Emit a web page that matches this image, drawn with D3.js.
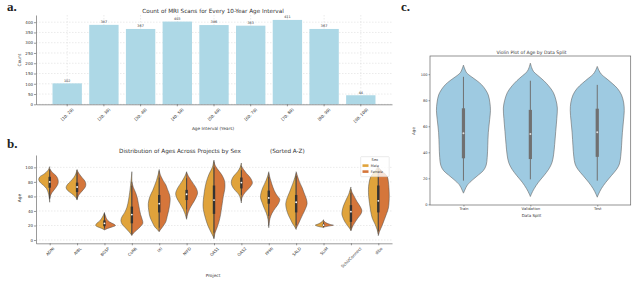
<!DOCTYPE html>
<html>
<head>
<meta charset="utf-8">
<script src="https://cdn.jsdelivr.net/npm/d3@7"></script>
<style>
body { margin: 0; background: #fff; }
svg text { font-family: "DejaVu Sans", sans-serif; fill: #333; }
.axis path, .axis line { stroke: #555; stroke-width: 0.6; }
.axis text { font-size: 4px; fill: #333; }
.grid line { stroke: #d6d6d6; stroke-width: 0.5; stroke-dasharray: 1.5, 1.5; }
svg text.panel { font-family: "Liberation Serif", "DejaVu Serif", serif; font-weight: bold; font-size: 13px; fill: #222; }
.lab { font-size: 4.3px; }
</style>
</head>
<body>
<div id="chart"></div>
<script>
// panel a: scans per age bin
var ageBins = ["[10, 20)", "[20, 30)", "[30, 40)", "[40, 50)", "[50, 60)", "[60, 70)", "[70, 80)", "[80, 90)", "[90, 100)"];
var scanCounts = [102, 387, 367, 403, 386, 383, 411, 367, 44];
var countTicks = [0, 50, 100, 150, 200, 250, 300, 350, 400];

// panel b: split violins per project, shapes are [age, relative half width]
var projects = ["ADNI", "AIBL", "BGSP", "CoRR", "IXI", "NIFD", "OAS1", "OAS2", "PPMI", "SALD", "SLIM", "SchizConnect", "dlbs"];
var maleShape = [
    [[101,0],[96,0.15],[91,0.5],[87,0.9],[83,1],[79,0.85],[75,0.55],[71,0.3],[66,0.15],[60,0.06],[55,0.02],[52,0]],
    [[97,0],[91,0.12],[86,0.3],[81,0.58],[76,0.9],[72,1],[68,0.85],[64,0.5],[60,0.2],[57,0.05],[55,0]],
    [[38,0],[34,0.1],[30,0.25],[26,0.45],[23,0.7],[20,0.8],[18,0.6],[16,0.25],[14,0]],
    [[94,0],[85,0.05],[75,0.12],[65,0.2],[55,0.3],[45,0.45],[38,0.65],[32,0.9],[27,1],[22,0.9],[17,0.6],[12,0.3],[8,0.08],[6,0]],
    [[97,0],[90,0.1],[82,0.25],[75,0.42],[68,0.6],[60,0.85],[50,1],[40,0.95],[32,0.85],[25,0.65],[18,0.4],[14,0.15],[11.5,0]],
    [[94,0],[88,0.15],[80,0.45],[72,0.8],[64,1],[58,0.9],[50,0.6],[42,0.3],[35,0.12],[28.5,0]],
    [[110,0],[104,0.08],[100,0.15],[90,0.47],[80,0.7],[72,0.82],[62,0.92],[50,1],[42,0.97],[30,0.78],[20,0.56],[10,0.25],[5,0.08],[1.5,0]],
    [[106,0],[100,0.12],[94,0.35],[88,0.7],[83,0.88],[78,0.92],[73,0.8],[68,0.55],[63,0.25],[57,0.08],[51,0]],
    [[94,0],[88,0.1],[80,0.3],[72,0.55],[64,0.72],[58,0.75],[52,0.62],[45,0.45],[37,0.22],[28,0.06],[17,0]],
    [[92,0],[86,0.12],[80,0.25],[74,0.4],[66,0.6],[58,0.82],[50,0.95],[42,0.88],[34,0.7],[28,0.5],[22,0.3],[18,0.12],[14.5,0]],
    [[28,0],[25,0.15],[22,0.5],[20.5,0.75],[19,0.55],[17.5,0.1],[17,0]],
    [[73,0],[68,0.1],[63,0.2],[55,0.45],[47,0.68],[40,0.8],[35,0.82],[29,0.68],[25,0.55],[20,0.32],[16,0.12],[13,0]],
    [[102,0],[97,0.2],[92,0.45],[87,0.7],[78,0.85],[70,0.9],[60,0.88],[50,0.8],[40,0.7],[30,0.55],[22,0.3],[15,0.12],[8,0]]
];
var femaleShape = [
    [[98,0],[93,0.25],[89,0.55],[85,0.72],[81,0.78],[77,0.75],[73,0.6],[69,0.4],[65,0.2],[61,0.07],[57,0]],
    [[96,0],[91,0.2],[86,0.45],[81,0.72],[77,0.8],[73,0.75],[69,0.55],[65,0.32],[61,0.12],[57,0.02],[56,0]],
    [[37,0],[33,0.1],[29,0.2],[25,0.45],[22,0.85],[20,1],[18,0.7],[16,0.3],[14,0]],
    [[80,0],[72,0.15],[65,0.35],[58,0.5],[50,0.6],[42,0.7],[35,0.8],[28,0.95],[23,1],[18,0.75],[13,0.4],[9,0.12],[7,0]],
    [[95,0],[88,0.15],[82,0.35],[76,0.6],[70,0.75],[62,0.95],[56,1],[48,0.95],[40,0.85],[32,0.72],[25,0.6],[19,0.35],[15,0.15],[12,0]],
    [[93,0],[87,0.2],[80,0.5],[72,0.85],[65,1],[58,0.85],[50,0.55],[43,0.28],[36,0.1],[30,0]],
    [[108,0],[103,0.1],[98,0.3],[90,0.7],[82,0.95],[76,1],[70,0.98],[60,0.85],[50,0.75],[45,0.7],[35,0.6],[25,0.45],[18,0.3],[10,0.1],[3,0]],
    [[102,0],[97,0.2],[92,0.45],[87,0.75],[82,0.95],[78,1],[73,0.8],[68,0.5],[63,0.22],[58,0.05],[54,0]],
    [[92,0],[85,0.12],[77,0.28],[68,0.5],[62,0.72],[56,1],[50,0.88],[44,0.6],[37,0.3],[30,0.12],[20,0]],
    [[94,0],[88,0.12],[80,0.3],[72,0.55],[65,0.72],[57,0.92],[50,1],[43,0.85],[35,0.6],[28,0.38],[22,0.2],[16,0]],
    [[27,0],[24,0.2],[21.5,0.6],[20.5,0.9],[19.5,0.6],[18,0.1],[17.5,0]],
    [[70,0],[65,0.12],[60,0.3],[53,0.55],[46,0.85],[40,1],[35,0.88],[30,0.62],[25,0.4],[20,0.2],[15,0.05],[13,0]],
    [[100,0],[94,0.4],[88,0.8],[80,0.92],[72,0.97],[62,1],[52,0.98],[44,0.92],[36,0.75],[28,0.55],[20,0.35],[12,0.12],[6,0]]
];
// [lower whisker, q1, median, q3, upper whisker]
var projectBox = [
    [57,72,80,87,97], [57,66,73,79,93], [16,19,23,27,36], [8,23,35,46,75], [17,38,50,62,86],
    [42,55,63,69,85], [10,36,55,75,100], [62,71,79,86,96], [33,50,58,68,87], [20,38,52,62,88],
    [18,19.5,20.5,21.5,24], [16,25,39,48,65], [12,38,54,75,98]
];
var sexes = ["Male", "Female"];
var sexColors = ["#e0a33b", "#d5763b"];
var ageTicks = [0, 20, 40, 60, 80, 100];

// panel c: violins by data split
var splits = ["Train", "Validation", "Test"];
var splitShape = [
    [[107,0],[104,0.05],[101,0.12],[98,0.3],[95,0.5],[92,0.67],[88,0.82],[84,0.92],[78,0.98],[72,1],[65,0.97],[55,0.92],[45,0.9],[36,0.88],[30,0.84],[26,0.74],[22.5,0.55],[19,0.35],[15,0.15],[11,0.05],[8.6,0]],
    [[108.5,0],[105,0.05],[102,0.12],[99,0.28],[95,0.5],[91,0.68],[86,0.85],[80,0.95],[74,1],[66,0.98],[56,0.94],[46,0.9],[38,0.86],[32,0.8],[27,0.68],[22,0.5],[17,0.3],[12,0.14],[8,0.04],[6,0]],
    [[106,0],[103,0.06],[100,0.15],[97,0.32],[93,0.55],[89,0.75],[84,0.9],[78,0.98],[72,1],[64,0.97],[55,0.93],[45,0.9],[37,0.87],[31,0.82],[27,0.72],[22,0.52],[17,0.32],[12,0.15],[8,0.05],[5.5,0]]
];
var splitBox = [[18.2,35.4,54.6,73.8,98], [19.2,34.8,54,72.6,95], [18.2,36.5,55.5,73.5,91.8]];

var width = 640, height = 296;

var svg = d3.select("#chart")
    .append("svg")
    .attr("width", width)
    .attr("height", height);

// rotate tick labels 45 degrees, centred under the tick like matplotlib
function rotateLabels(g, tickLen) {
    g.selectAll(".tick text").each(function() {
        var L = this.getComputedTextLength();
        var off = tickLen + 1.2 + (L + 4) / (2 * Math.SQRT2);
        d3.select(this)
            .attr("y", 0)
            .attr("dy", "0.35em")
            .attr("text-anchor", "middle")
            .attr("transform", "translate(0," + off + ") rotate(-45)");
    });
}

/*
PANEL A
*/
var a = { left: 36, right: 392, top: 15, bottom: 104.3 };

a.x = d3.scaleBand()
    .domain(ageBins)
    .range([a.left, a.right])
    .paddingInner(0.2)
    .paddingOuter(0.45);

a.y = d3.scaleLinear()
    .domain([0, 435])
    .range([a.bottom, a.top]);

a.grid = svg.append("g").attr("class", "grid");
a.grid.selectAll(".h").data(countTicks).enter().append("line")
    .attr("x1", a.left).attr("x2", a.right)
    .attr("y1", function(d) { return a.y(d); })
    .attr("y2", function(d) { return a.y(d); });
a.grid.selectAll(".v").data(ageBins).enter().append("line")
    .attr("x1", function(d) { return a.x(d) + a.x.bandwidth() / 2; })
    .attr("x2", function(d) { return a.x(d) + a.x.bandwidth() / 2; })
    .attr("y1", a.top).attr("y2", a.bottom);

svg.selectAll(".bar")
    .data(scanCounts)
    .enter()
    .append("rect")
    .attr("x", function(d, i) { return a.x(ageBins[i]); })
    .attr("y", function(d) { return a.y(d); })
    .attr("width", a.x.bandwidth())
    .attr("height", function(d) { return a.bottom - a.y(d); })
    .attr("fill", "#add8e6");

svg.selectAll(".barlab")
    .data(scanCounts)
    .enter()
    .append("text")
    .attr("x", function(d, i) { return a.x(ageBins[i]) + a.x.bandwidth() / 2; })
    .attr("y", function(d) { return a.y(d) - 1.6; })
    .attr("text-anchor", "middle")
    .style("font-size", "3.4px")
    .text(function(d) { return d; });

a.xAxis = svg.append("g")
    .attr("class", "axis")
    .attr("transform", "translate(0," + a.bottom + ")")
    .call(d3.axisBottom(a.x).tickSize(2).tickPadding(1).tickSizeOuter(0));
rotateLabels(a.xAxis, 2);

a.yAxis = svg.append("g")
    .attr("class", "axis")
    .attr("transform", "translate(" + a.left + ",0)")
    .call(d3.axisLeft(a.y).tickValues(countTicks).tickSize(2).tickPadding(1).tickSizeOuter(0));

svg.append("text").attr("x", 213).attr("y", 13).attr("text-anchor", "middle")
    .style("font-size", "5.7px")
    .text("Count of MRI Scans for Every 10-Year Age Interval");
svg.append("text").attr("class", "lab").attr("x", 213).attr("y", 130).attr("text-anchor", "middle")
    .text("Age Interval (Years)");
svg.append("text").attr("class", "lab").attr("transform", "translate(21,60) rotate(-90)")
    .attr("text-anchor", "middle").text("Count");
svg.append("text").attr("class", "panel").attr("x", 7).attr("y", 11).text("a.");

/*
PANEL B
*/
var b = { left: 36, right: 392, top: 155, bottom: 243.3 };

b.x = d3.scalePoint()
    .domain(projects)
    .range([b.left, b.right])
    .padding(0.5);

b.y = d3.scaleLinear()
    .domain([-4.5, 117])
    .range([b.bottom, b.top]);

b.hw = 0.4 * b.x.step();

svg.append("g").attr("class", "grid")
    .selectAll("line").data(ageTicks).enter().append("line")
    .attr("x1", b.left).attr("x2", b.right)
    .attr("y1", function(d) { return b.y(d); })
    .attr("y2", function(d) { return b.y(d); });

b.violins = svg.append("g");
projects.forEach(function(p, i) {
    var cx = b.x(p);
    [maleShape[i], femaleShape[i]].forEach(function(shape, s) {
        var dir = s === 0 ? -1 : 1;
        var area = d3.area()
            .curve(d3.curveCatmullRom)
            .y(function(d) { return b.y(d[0]); })
            .x0(cx)
            .x1(function(d) { return cx + dir * d[1] * b.hw; });
        b.violins.append("path")
            .attr("d", area(shape))
            .attr("fill", sexColors[s])
            .attr("stroke", "#4a4a4a")
            .attr("stroke-width", 0.5);
    });
    var st = projectBox[i];
    b.violins.append("line")
        .attr("x1", cx).attr("x2", cx)
        .attr("y1", b.y(st[0])).attr("y2", b.y(st[4]))
        .attr("stroke", "#333").attr("stroke-width", 0.7);
    b.violins.append("rect")
        .attr("x", cx - 1.2).attr("width", 2.4)
        .attr("y", b.y(st[3])).attr("height", b.y(st[1]) - b.y(st[3]))
        .attr("fill", "#333");
    b.violins.append("circle")
        .attr("cx", cx).attr("cy", b.y(st[2])).attr("r", 0.9)
        .attr("fill", "#fff");
});

b.xAxis = svg.append("g")
    .attr("class", "axis")
    .attr("transform", "translate(0," + b.bottom + ")")
    .call(d3.axisBottom(b.x).tickSize(2).tickPadding(1).tickSizeOuter(0));
rotateLabels(b.xAxis, 2);

b.yAxis = svg.append("g")
    .attr("class", "axis")
    .attr("transform", "translate(" + b.left + ",0)")
    .call(d3.axisLeft(b.y).tickValues(ageTicks).tickSize(2).tickPadding(1).tickSizeOuter(0));

// legend
b.legend = svg.append("g").attr("transform", "translate(360.7,156.7)");
b.legend.append("rect").attr("width", 28.5).attr("height", 20)
    .attr("fill", "#fff").attr("fill-opacity", 0.8)
    .attr("stroke", "#ccc").attr("stroke-width", 0.4).attr("rx", 0.8);
b.legend.append("text").attr("x", 14.2).attr("y", 4.6).attr("text-anchor", "middle")
    .style("font-size", "3.6px").text("Sex");
sexes.forEach(function(s, i) {
    b.legend.append("rect").attr("x", 1.8).attr("y", 7.6 + i * 6).attr("width", 6).attr("height", 2.6)
        .attr("fill", sexColors[i]);
    b.legend.append("text").attr("x", 10).attr("y", 9.9 + i * 6)
        .style("font-size", "3.4px").text(s);
});

svg.append("text").attr("x", 119).attr("y", 153).style("font-size", "5.7px")
    .text("Distribution of Ages Across Projects by Sex");
svg.append("text").attr("x", 270).attr("y", 153).style("font-size", "5.7px")
    .text("(Sorted A-Z)");
svg.append("text").attr("class", "lab").attr("x", 213).attr("y", 277).attr("text-anchor", "middle")
    .text("Project");
svg.append("text").attr("class", "lab").attr("transform", "translate(21,198) rotate(-90)")
    .attr("text-anchor", "middle").text("Age");
svg.append("text").attr("class", "panel").attr("x", 7).attr("y", 148).text("b.");

/*
PANEL C
*/
var c = { left: 430, right: 630.7, top: 56, bottom: 205 };

c.x = d3.scalePoint()
    .domain(splits)
    .range([c.left, c.right])
    .padding(0.5);

c.y = d3.scaleLinear()
    .domain([-0.5, 114])
    .range([c.bottom, c.top]);

c.hw = 27;

splits.forEach(function(s, i) {
    var cx = c.x(s);
    var area = d3.area()
        .curve(d3.curveCatmullRom)
        .y(function(d) { return c.y(d[0]); })
        .x0(function(d) { return cx - d[1] * c.hw; })
        .x1(function(d) { return cx + d[1] * c.hw; });
    svg.append("path")
        .attr("d", area(splitShape[i]))
        .attr("fill", "#9ecae1")
        .attr("stroke", "#666")
        .attr("stroke-width", 0.6);
    var st = splitBox[i];
    svg.append("line")
        .attr("x1", cx).attr("x2", cx)
        .attr("y1", c.y(st[0])).attr("y2", c.y(st[4]))
        .attr("stroke", "#707070").attr("stroke-width", 1);
    svg.append("rect")
        .attr("x", cx - 1.6).attr("width", 3.2)
        .attr("y", c.y(st[3])).attr("height", c.y(st[1]) - c.y(st[3]))
        .attr("fill", "#707070");
    svg.append("circle")
        .attr("cx", cx).attr("cy", c.y(st[2])).attr("r", 1)
        .attr("fill", "#ddd");
});

svg.append("rect")
    .attr("x", c.left).attr("y", c.top)
    .attr("width", c.right - c.left).attr("height", c.bottom - c.top)
    .attr("fill", "none").attr("stroke", "#666").attr("stroke-width", 0.7);

c.xAxis = svg.append("g")
    .attr("class", "axis")
    .attr("transform", "translate(0," + c.bottom + ")")
    .call(d3.axisBottom(c.x).tickSize(1.5).tickPadding(1).tickSizeOuter(0));
c.xAxis.select(".domain").remove();
c.xAxis.selectAll("text").style("font-size", "3.8px");

c.yAxis = svg.append("g")
    .attr("class", "axis")
    .attr("transform", "translate(" + c.left + ",0)")
    .call(d3.axisLeft(c.y).tickValues(ageTicks).tickSize(1.5).tickPadding(1).tickSizeOuter(0));
c.yAxis.select(".domain").remove();
c.yAxis.selectAll("text").style("font-size", "3.6px");

svg.append("text").attr("x", 531.5).attr("y", 54).attr("text-anchor", "middle")
    .style("font-size", "4.6px").text("Violin Plot of Age by Data Split");
svg.append("text").attr("x", 531.5).attr("y", 217).attr("text-anchor", "middle")
    .style("font-size", "4px").text("Data Split");
svg.append("text").attr("transform", "translate(415,131) rotate(-90)")
    .attr("text-anchor", "middle").style("font-size", "4px").text("Age");
svg.append("text").attr("class", "panel").attr("x", 401).attr("y", 11).text("c.");
</script>
</body>
</html>
